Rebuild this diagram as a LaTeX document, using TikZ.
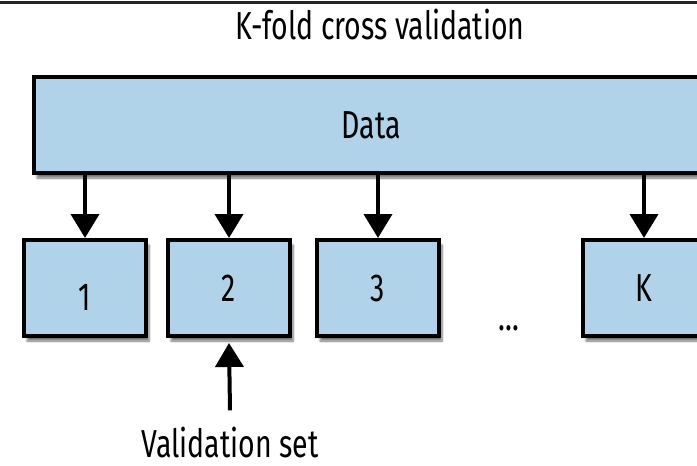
\documentclass[tikz,border=0pt]{standalone}
\usepackage{fontspec}
\setmainfont[FakeStretch=0.73]{Fira Sans}
\usetikzlibrary{positioning,arrows.meta,shadows.blur}
\definecolor{foldblue}{RGB}{176,211,233}

\begin{document}
\begin{tikzpicture}[x=1pt,y=-1pt,
    every node/.style={font=\fontsize{39}{46}\selectfont,inner sep=0pt},
    databox/.style={draw=black,line width=4pt,fill=foldblue,
      blur shadow={shadow xshift=3pt,shadow yshift=-5pt,shadow blur steps=8,shadow opacity=55}},
    foldbox/.style={databox,minimum width=122pt,minimum height=96pt},
    splitarrow/.style={line width=4pt,-{Triangle[width=28pt,length=24pt]}}]
  \clip (0,0) rectangle (697,466);
  \useasboundingbox (0,0) rectangle (697,466);
  \draw[line width=3pt,black!85] (0,2.5) -- (697,2.5);
  \node (title) at (380,24.5) {K-fold cross validation};

  % whole data set, split into K folds
  \node[databox,minimum width=674pt,minimum height=96pt] (data) at (371,125) {Data};
  \node[foldbox,text height=45pt] (f1) at (85,288) {1};
  \node[foldbox,right=18pt of f1] (f2) {2};
  \node[foldbox,right=23pt of f2] (f3) {3};
  \node[foldbox,right=140pt of f3] (fK) {K};
  \node (dots) at (509,328) {...};

  \foreach \f in {f1,f2,f3,fK}
    \draw[splitarrow] (data.south -| \f.north) -- (\f.north);

  % held-out fold
  \node (valtext) at (230,443) {Validation set};
  \draw[splitarrow] ([yshift=17pt]valtext.north) -- ([yshift=-5pt]f2.south);
\end{tikzpicture}
\end{document}
